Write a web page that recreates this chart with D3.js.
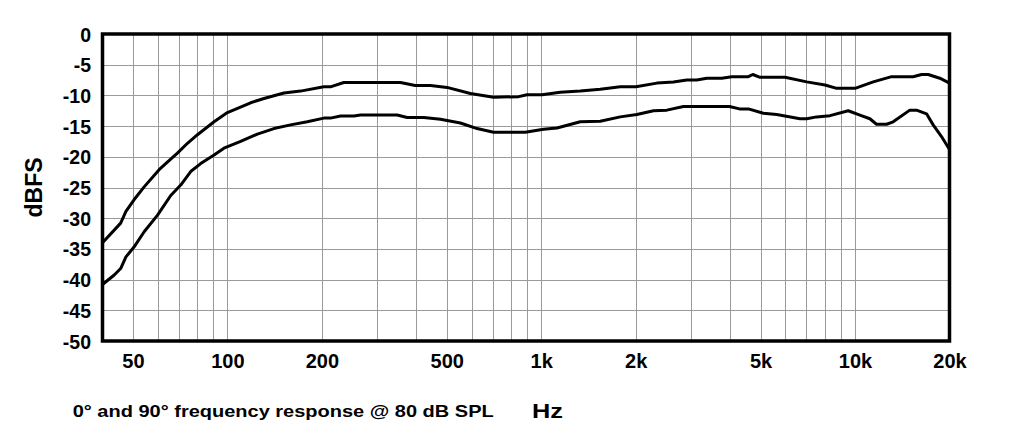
<!DOCTYPE html>
<html>
<head>
<meta charset="utf-8">
<script src="https://cdn.jsdelivr.net/npm/d3@7"></script>
<style>
  html, body { margin: 0; padding: 0; background: #fff; }
  svg { display: block; font-family: "Liberation Sans", Arial, sans-serif; font-weight: bold; }
</style>
</head>
<body>
<svg id="chart" width="1024" height="442"></svg>
<script>
// ---- data ----
const freq0 = [40, 45.7, 47.5, 50.4, 54.3, 60.6, 63.6, 69.3, 74.6, 80.3, 90.7, 100, 118.6, 130.8, 151.4, 171, 203, 213, 235, 331, 356, 397, 444, 501, 595, 705, 848, 901, 1006, 1150, 1332, 1542, 1786, 2004, 2337, 2638, 2911, 3131, 3371, 3762, 4049, 4573, 4722, 4982, 5983, 7015, 8024, 8739, 10000, 11430, 13080, 15320, 16290, 17100, 18630, 20000];
const db0 = [-34.0, -30.8, -28.9, -27.0, -24.9, -22.1, -21.1, -19.4, -17.8, -16.4, -14.3, -12.8, -11.2, -10.5, -9.6, -9.3, -8.6, -8.6, -7.9, -7.9, -7.9, -8.4, -8.4, -8.7, -9.7, -10.3, -10.2, -9.9, -9.9, -9.5, -9.3, -9.0, -8.6, -8.6, -8.0, -7.8, -7.5, -7.5, -7.2, -7.2, -6.95, -6.95, -6.6, -7.05, -7.05, -7.8, -8.3, -8.85, -8.85, -7.8, -6.95, -6.95, -6.6, -6.6, -7.2, -8.0];

const freq90 = [40, 43.6, 45.7, 47.5, 50.4, 54.3, 59.9, 66.0, 71.0, 76.4, 82.2, 90.7, 97.5, 110.2, 124.6, 140.7, 159, 179.7, 203, 213, 229.4, 252.9, 265.7, 331, 347.6, 374, 422.5, 477.5, 552.7, 624.7, 705, 889.6, 1018, 1123, 1332, 1542, 1786, 2018, 2279, 2514, 2840, 3981, 4283, 4573, 5104, 5629, 6676, 7015, 7546, 8322, 9515, 10366, 11150, 11710, 12610, 13230, 14950, 15700, 16900, 17740, 18860, 20000];
const db90 = [-40.8, -39.25, -38.2, -36.3, -34.7, -32.2, -29.5, -26.3, -24.6, -22.4, -21.1, -19.7, -18.6, -17.5, -16.3, -15.4, -14.8, -14.3, -13.7, -13.7, -13.35, -13.35, -13.2, -13.2, -13.2, -13.6, -13.6, -13.9, -14.5, -15.4, -16.0, -16.0, -15.5, -15.3, -14.3, -14.2, -13.5, -13.1, -12.5, -12.4, -11.8, -11.8, -12.2, -12.2, -12.9, -13.1, -13.8, -13.8, -13.5, -13.3, -12.5, -13.2, -13.8, -14.7, -14.7, -14.3, -12.4, -12.4, -13.0, -14.8, -16.7, -18.8];

const xGrid = [50, 60, 70, 80, 90, 100, 200, 300, 400, 500, 600, 700, 800, 900, 1000, 2000, 3000, 4000, 5000, 6000, 7000, 8000, 9000, 10000];
const xTickValues = [50, 100, 200, 500, 1000, 2000, 5000, 10000, 20000];
const xTickLabels = ["50", "100", "200", "500", "1k", "2k", "5k", "10k", "20k"];
const yTickValues = [0, -5, -10, -15, -20, -25, -30, -35, -40, -45, -50];
const yTickLabels = ["0", "-5", "-10", "-15", "-20", "-25", "-30", "-35", "-40", "-45", "-50"];

const yTitle = "dBFS";
const xTitle = "Hz";
const caption = "0\u00b0 and 90\u00b0 frequency response @ 80 dB SPL";

// ---- layout ----
const pL = 102.5, pR = 949.5, pT = 34, pB = 341;
const svg = d3.select("#chart");

const x = d3.scaleLog().domain([40, 20000]).range([pL, pR]);
const y = d3.scaleLinear().domain([-50, 0]).range([pB, pT]);

// grid
const grid = svg.append("g").attr("stroke", "#9a9a9a").attr("stroke-width", 1).attr("shape-rendering", "crispEdges");
grid.selectAll("line.v").data(xGrid).join("line")
  .attr("class", "v")
  .attr("x1", d => Math.round(x(d)) + 0.5).attr("x2", d => Math.round(x(d)) + 0.5)
  .attr("y1", pT).attr("y2", pB);
grid.selectAll("line.h").data(yTickValues.filter(v => v !== 0 && v !== -50)).join("line")
  .attr("class", "h")
  .attr("x1", pL).attr("x2", pR)
  .attr("y1", d => Math.round(y(d)) + 0.5).attr("y2", d => Math.round(y(d)) + 0.5);

// curves
const line = d3.line().x(d => x(d[0])).y(d => y(d[1])).curve(d3.curveLinear);
const series = [
  d3.zip(freq0, db0),
  d3.zip(freq90, db90)
];
svg.append("g").selectAll("path").data(series).join("path")
  .attr("d", line)
  .attr("fill", "none")
  .attr("stroke", "#000")
  .attr("stroke-width", 3)
  .attr("stroke-linejoin", "round")
  .attr("stroke-linecap", "round");

// border
svg.append("rect")
  .attr("x", pL).attr("y", pT)
  .attr("width", pR - pL).attr("height", pB - pT)
  .attr("fill", "none").attr("stroke", "#000").attr("stroke-width", 3.5);

// x axis labels
const xAxis = d3.axisBottom(x)
  .tickValues(xTickValues)
  .tickFormat((d, i) => xTickLabels[i])
  .tickSize(0).tickPadding(0);
const gx = svg.append("g").attr("transform", `translate(0,${pB})`).call(xAxis);
gx.select(".domain").remove();
gx.selectAll("text")
  .attr("y", 27).attr("dy", null)
  .attr("font-family", "'Liberation Sans', Arial, sans-serif")
  .attr("font-weight", "bold").attr("font-size", 20).attr("fill", "#000");

// y axis labels
const yAxis = d3.axisLeft(y)
  .tickValues(yTickValues)
  .tickFormat((d, i) => yTickLabels[i])
  .tickSize(0).tickPadding(0);
const gy = svg.append("g").attr("transform", `translate(91,0)`).call(yAxis);
gy.select(".domain").remove();
gy.selectAll("text")
  .attr("x", 0).attr("dy", "0.36em")
  .attr("font-family", "'Liberation Sans', Arial, sans-serif")
  .attr("font-weight", "bold").attr("font-size", 19.5).attr("fill", "#000");

// titles
svg.append("text")
  .attr("transform", `translate(42,${(pT + pB) / 2}) rotate(-90)`)
  .attr("text-anchor", "middle")
  .attr("font-size", 23).attr("fill", "#000")
  .text(yTitle);

svg.append("text")
  .attr("x", 72.7).attr("y", 417)
  .attr("font-size", 17).attr("fill", "#000")
  .attr("textLength", 421).attr("lengthAdjust", "spacingAndGlyphs")
  .text(caption);

svg.append("text")
  .attr("x", 532).attr("y", 417.5)
  .attr("font-size", 20).attr("fill", "#000")
  .attr("textLength", 31).attr("lengthAdjust", "spacingAndGlyphs")
  .text(xTitle);
</script>
</body>
</html>
